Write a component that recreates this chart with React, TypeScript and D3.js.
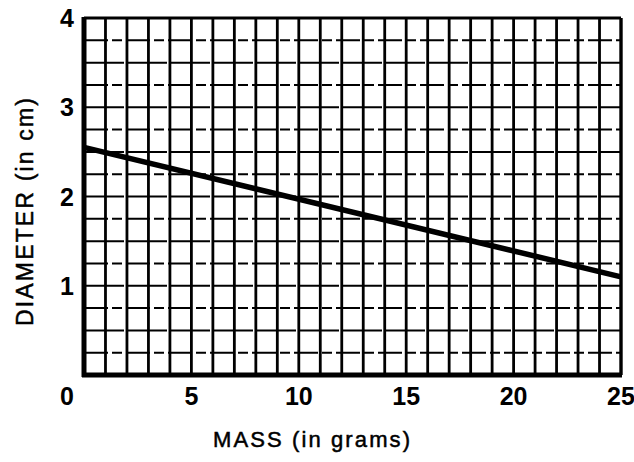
import React from "react";
import * as d3 from "d3";

const massValues = [0, 25];
const diameterValues = [2.55, 1.1];
const xTickLabels = [5, 10, 15, 20, 25];
const yTickLabels = [1, 2, 3, 4];
const xGridValues = d3.range(0, 26, 1);
const yGridValues = d3.range(0, 4.01, 0.25);

export default function App() {
  const W = 634;
  const H = 462;
  const x = d3.scaleLinear().domain([0, 25]).range([84, 621]);
  const y = d3.scaleLinear().domain([0, 4]).range([375, 18]);
  const pts = massValues.map((m, i) => [m, diameterValues[i]] as [number, number]);
  const line = d3
    .line<[number, number]>()
    .x((d) => x(d[0]))
    .y((d) => y(d[1]));
  const font = "'Liberation Sans', Arial, sans-serif";
  return (
    <svg
      width={W}
      height={H}
      style={{ position: "absolute", left: 0, top: 0, background: "#fff" }}
    >
      <rect x={0} y={0} width={W} height={H} fill="#fff" />
      {yGridValues.map((v, i) => (
        <line
          key={"h" + i}
          x1={x(0)}
          x2={x(25)}
          y1={y(v)}
          y2={y(v)}
          stroke="#000"
          strokeWidth={2}
          strokeDasharray={i % 2 === 1 ? "24 4 10 4" : "40 3"}
        />
      ))}
      {xGridValues.map((v) => (
        <line
          key={"v" + v}
          x1={x(v)}
          x2={x(v)}
          y1={y(0)}
          y2={y(4)}
          stroke="#000"
          strokeWidth={2.8}
        />
      ))}
      {/* frame */}
      <line x1={x(0)} x2={x(25)} y1={y(4)} y2={y(4)} stroke="#000" strokeWidth={3} />
      <line x1={x(25)} x2={x(25)} y1={y(0)} y2={y(4)} stroke="#000" strokeWidth={3} />
      <line x1={x(0)} x2={x(0)} y1={y(0) + 2} y2={y(4) - 1} stroke="#000" strokeWidth={5} />
      <line x1={x(0) - 2} x2={x(25) + 1} y1={y(0)} y2={y(0)} stroke="#000" strokeWidth={5} />
      {/* data line */}
      <path d={line(pts) || ""} fill="none" stroke="#000" strokeWidth={5.5} />
      {/* y tick labels */}
      {yTickLabels.map((v) => (
        <text
          key={"yl" + v}
          x={67}
          y={y(v)}
          dy="0.36em"
          textAnchor="middle"
          fontFamily={font}
          fontWeight="bold"
          fontSize={25}
          fill="#000"
        >
          {v}
        </text>
      ))}
      <text
        x={67}
        y={396}
        dy="0.36em"
        textAnchor="middle"
        fontFamily={font}
        fontWeight="bold"
        fontSize={25}
        fill="#000"
      >
        0
      </text>
      {xTickLabels.map((v) => (
        <text
          key={"xl" + v}
          x={x(v)}
          y={396}
          dy="0.36em"
          textAnchor="middle"
          fontFamily={font}
          fontWeight="bold"
          fontSize={25}
          fill="#000"
        >
          {v}
        </text>
      ))}
      <text
        x={213}
        y={447}
        fontFamily={font}
        fontSize={22}
        textLength={197}
        lengthAdjust="spacing"
        fill="#000"
        stroke="#000"
        strokeWidth={0.5}
      >
        MASS (in grams)
      </text>
      <text
        transform={`translate(33,${326}) rotate(-90)`}
        fontFamily={font}
        fontSize={23}
        textLength={228}
        lengthAdjust="spacing"
        fill="#000"
        stroke="#000"
        strokeWidth={0.5}
      >
        DIAMETER (in cm)
      </text>
    </svg>
  );
}
